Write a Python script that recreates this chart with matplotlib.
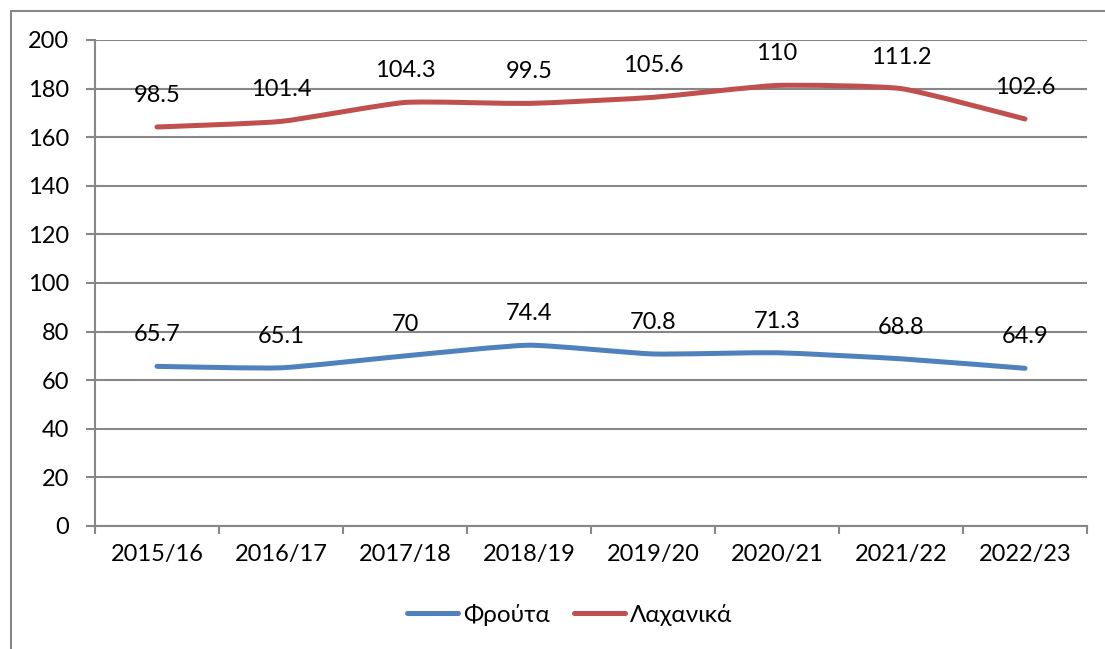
import numpy as np
import matplotlib.pyplot as plt
from matplotlib.path import Path
from matplotlib.patches import PathPatch, Rectangle
from matplotlib.lines import Line2D

plt.rcParams['font.family'] = ['Lato', 'DejaVu Sans']

seasons = ['2015/16', '2016/17', '2017/18', '2018/19', '2019/20', '2020/21', '2021/22', '2022/23']
frouta = [65.7, 65.1, 70, 74.4, 70.8, 71.3, 68.8, 64.9]
lachanika = [98.5, 101.4, 104.3, 99.5, 105.6, 110, 111.2, 102.6]

blue = '#4F81BD'
red = '#C0504D'
grey = '#878787'


def smooth_path(x, y, k=12):
    # bezier through the points, like the smoothed lines of a spreadsheet chart
    pts = np.column_stack([x, y]).astype(float)
    n = len(pts)
    verts = [pts[0]]
    codes = [Path.MOVETO]
    for i in range(n - 1):
        p0 = pts[i - 1] if i > 0 else pts[i]
        p1 = pts[i]
        p2 = pts[i + 1]
        p3 = pts[i + 2] if i + 2 < n else pts[i + 1]
        verts += [p1 + (p2 - p0) / k, p2 - (p3 - p1) / k, p2]
        codes += [Path.CURVE4] * 3
    return Path(verts, codes)


fig = plt.figure(figsize=(11.05, 6.49), dpi=100)
ax = fig.add_axes([95 / 1105, 1 - 526 / 649, (1087 - 95) / 1105, (526 - 40) / 649])

x = np.arange(len(seasons))
stacked = np.array(frouta) + np.array(lachanika)

for yv, col in [(frouta, blue), (stacked, red)]:
    ax.add_patch(PathPatch(smooth_path(x, yv), fill=False, edgecolor=col, lw=3.6,
                           capstyle='round', joinstyle='round', zorder=3))

for xi, yi, v in zip(x, frouta, frouta):
    ax.annotate(f'{v:g}', (xi, yi), xytext=(0, 18), textcoords='offset points',
                ha='center', va='baseline', fontsize=17, zorder=4)
for xi, yi, v in zip(x, stacked, lachanika):
    ax.annotate(f'{v:g}', (xi, yi), xytext=(0, 18), textcoords='offset points',
                ha='center', va='baseline', fontsize=17, zorder=4)

ax.set_xlim(-0.5, len(seasons) - 0.5)
ax.set_ylim(0, 200)
ax.set_yticks(range(0, 201, 20))
ax.set_xticks(x)
ax.set_xticklabels(seasons)
ax.set_xticks(np.arange(-0.5, len(seasons)), minor=True)
ax.tick_params(axis='x', which='major', length=0, pad=13, labelsize=17)
ax.tick_params(axis='x', which='minor', length=6, width=1.5, color=grey)
ax.tick_params(axis='y', length=6.5, width=1.5, color=grey, pad=12, labelsize=17)
ax.grid(axis='y', color=grey, lw=1.5)
ax.set_axisbelow(True)
for s in ['top', 'right']:
    ax.spines[s].set_visible(False)
for s in ['left', 'bottom']:
    ax.spines[s].set_color(grey)
    ax.spines[s].set_linewidth(1.5)

handles = [Line2D([], [], color=blue, lw=3.6, solid_capstyle='round'),
           Line2D([], [], color=red, lw=3.6, solid_capstyle='round')]
fig.legend(handles, ['Φρούτα', 'Λαχανικά'], loc='center', bbox_to_anchor=(570 / 1105, 1 - 615 / 649),
           ncol=2, frameon=False, fontsize=17.5, handlelength=2.1, handletextpad=0.2, columnspacing=1.0)

fig.add_artist(Rectangle((11 / 1105, -0.02), 1.05, 1 - 11 / 649 + 0.02, transform=fig.transFigure,
                         fill=False, edgecolor=grey, lw=1.5))

fig.savefig('out.png', dpi=100)
